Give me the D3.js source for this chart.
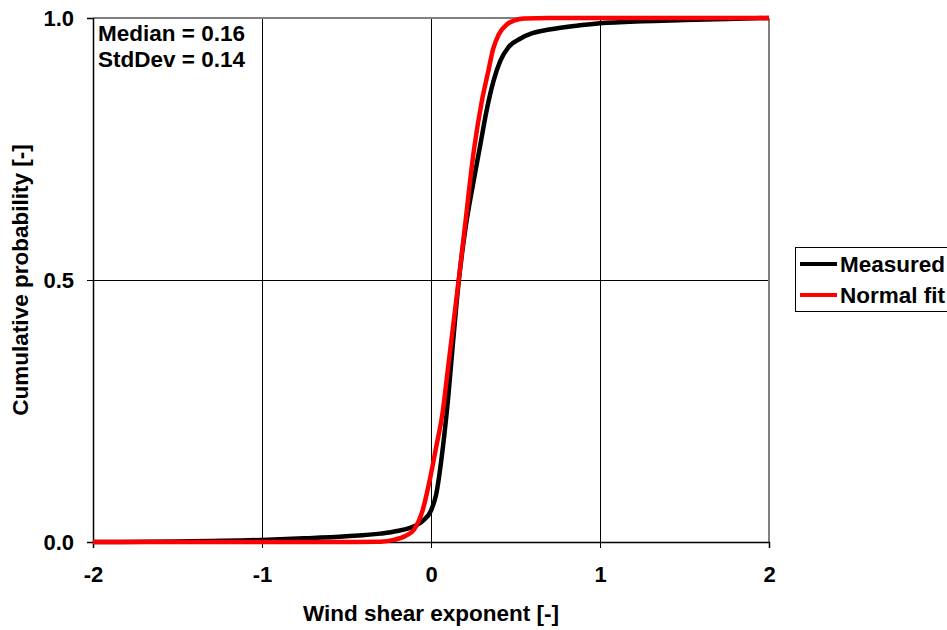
<!doctype html>
<html>
<head>
<meta charset="utf-8">
<title>Wind shear CDF</title>
<script src="https://d3js.org/d3.v7.min.js"></script>
<style>
  body { margin: 0; background: #fff; }
  text { font-family: "Liberation Sans", Arial, sans-serif; font-weight: bold; fill: #000; }
</style>
</head>
<body>
<div class="chart"></div>
<script>
// values
var xTicks = [-2, -1, 0, 1, 2];
var yTicks = [0, 0.5, 1];

var measuredX = [-2, -1.5, -1, -0.75, -0.5, -0.3, -0.2, -0.1, -0.05, 0, 0.03, 0.07, 0.1, 0.13, 0.165, 0.2, 0.25, 0.29, 0.33, 0.37, 0.41, 0.46, 0.53, 0.6, 0.7, 0.88, 1.0, 1.25, 1.5, 2];
var measuredP = [0, 0.001, 0.004, 0.007, 0.011, 0.016, 0.021, 0.03, 0.04, 0.06, 0.09, 0.18, 0.27, 0.38, 0.5, 0.59, 0.685, 0.755, 0.825, 0.88, 0.918, 0.945, 0.961, 0.971, 0.978, 0.986, 0.99, 0.994, 0.996, 1.0];

var fitX = [-2, -0.5, -0.3, -0.22, -0.15, -0.1, -0.05, 0, 0.03, 0.07, 0.1, 0.13, 0.164, 0.2, 0.254, 0.3, 0.34, 0.367, 0.4, 0.45, 0.5, 0.55, 0.7, 2];
var fitP = [0, 0, 0.0005, 0.004, 0.012, 0.024, 0.06, 0.13, 0.18, 0.25, 0.33, 0.41, 0.5, 0.6, 0.748, 0.84, 0.9, 0.94, 0.968, 0.988, 0.996, 0.999, 1, 1];

var seriesNames = ["Measured", "Normal fit"];
var seriesColors = ["#000000", "#ff0000"];
var notes = ["Median = 0.16", "StdDev = 0.14"];

var width = 947, height = 630;
var pLeft = 93, pRight = 769, pTop = 18, pBottom = 542;
var fontSize = "22.5px";

var svg = d3.select(".chart").append("svg")
            .attr("width", width)
            .attr("height", height);

var x = d3.scaleLinear().domain([-2, 2]).range([pLeft, pRight]);
var y = d3.scaleLinear().domain([0, 1]).range([pBottom, pTop]);

// grid
svg.append("g").selectAll("line")
   .data([-1, 0, 1])
   .enter().append("line")
   .attr("x1", function(d){ return x(d) + 0.5; })
   .attr("x2", function(d){ return x(d) + 0.5; })
   .attr("y1", pTop).attr("y2", pBottom)
   .attr("stroke", "#000").attr("stroke-width", 1);

svg.append("g").selectAll("line")
   .data([0.5])
   .enter().append("line")
   .attr("y1", function(d){ return y(d) + 0.5; })
   .attr("y2", function(d){ return y(d) + 0.5; })
   .attr("x1", pLeft).attr("x2", pRight)
   .attr("stroke", "#000").attr("stroke-width", 1);

// gray frame top / right
svg.append("line").attr("x1", pLeft).attr("x2", pRight).attr("y1", pTop).attr("y2", pTop)
   .attr("stroke", "#808080").attr("stroke-width", 2);
svg.append("line").attr("x1", pRight).attr("x2", pRight).attr("y1", pTop).attr("y2", pBottom)
   .attr("stroke", "#808080").attr("stroke-width", 2);

// axes
var xAxis = svg.append("g")
   .attr("transform", "translate(0," + pBottom + ")")
   .call(d3.axisBottom(x).tickValues(xTicks).tickFormat(function(d){ return String(d); }).tickSize(6).tickPadding(18));
var yAxis = svg.append("g")
   .attr("transform", "translate(" + pLeft + ",0)")
   .call(d3.axisLeft(y).tickValues(yTicks).tickFormat(d3.format(".1f")).tickSize(6).tickPadding(13));

[xAxis, yAxis].forEach(function(a){
   a.selectAll("path").attr("stroke", "#000").attr("stroke-width", 1.5);
   a.selectAll("line").attr("stroke", "#000");
   a.selectAll("text").style("font-size", "22px").style("font-family", "Liberation Sans, Arial, sans-serif")
    .style("font-weight", "bold").attr("fill", "#000");
});

// curves
var line = d3.line()
   .x(function(d){ return x(d[0]); })
   .y(function(d){ return y(d[1]); })
   .curve(d3.curveMonotoneX);

var measured = measuredX.map(function(v, i){ return [v, measuredP[i]]; });
var fit = fitX.map(function(v, i){ return [v, fitP[i]]; });

svg.append("path").datum(measured)
   .attr("d", line).attr("fill", "none")
   .attr("stroke", seriesColors[0]).attr("stroke-width", 4.5);
svg.append("path").datum(fit)
   .attr("d", line).attr("fill", "none")
   .attr("stroke", seriesColors[1]).attr("stroke-width", 4.5);

// notes
svg.selectAll(".note").data(notes).enter().append("text")
   .attr("class", "note")
   .attr("x", 98)
   .attr("y", function(d, i){ return 41 + i * 26; })
   .style("font-size", fontSize)
   .text(function(d){ return d; });

// axis titles
svg.append("text")
   .attr("x", (pLeft + pRight) / 2).attr("y", 621)
   .attr("text-anchor", "middle")
   .style("font-size", fontSize)
   .text("Wind shear exponent [-]");

svg.append("text")
   .attr("transform", "translate(28," + ((pTop + pBottom) / 2) + ") rotate(-90)")
   .attr("text-anchor", "middle")
   .style("font-size", fontSize)
   .text("Cumulative probability [-]");

// legend
var legend = svg.append("g");
legend.append("rect")
   .attr("x", 795.5).attr("y", 247.5).attr("width", 200).attr("height", 64)
   .attr("fill", "#fff").attr("stroke", "#000").attr("stroke-width", 1);
var items = legend.selectAll(".item").data(seriesNames).enter().append("g")
   .attr("transform", function(d, i){ return "translate(0," + (264 + i * 31) + ")"; });
items.append("line")
   .attr("x1", 800).attr("x2", 837)
   .attr("stroke", function(d, i){ return seriesColors[i]; })
   .attr("stroke-width", 4);
items.append("text")
   .attr("x", 840).attr("y", 8)
   .style("font-size", fontSize)
   .text(function(d){ return d; });
</script>
</body>
</html>
